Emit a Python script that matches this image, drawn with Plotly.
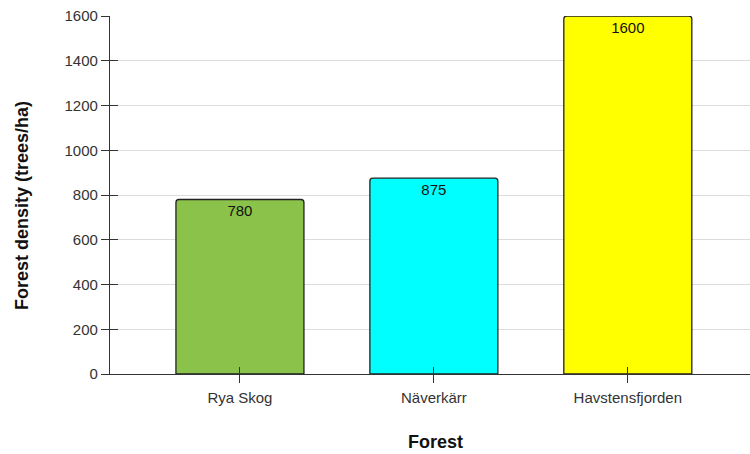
import plotly.graph_objects as go

forests = ["Rya Skog", "Näverkärr", "Havstensfjorden"]
density = [780, 875, 1600]
colors = ["#8bc34a", "#00ffff", "#ffff00"]
y_ticks = [0, 200, 400, 600, 800, 1000, 1200, 1400, 1600]

fig = go.Figure()
fig.add_trace(go.Bar(
    x=forests, y=density, marker=dict(color=colors, line=dict(color="#222", width=1.3)),
    text=[str(v) for v in density], textposition="inside", insidetextanchor="end",
    textfont=dict(family="Liberation Sans, Arial", size=15, color="#111"),
    width=0.66, showlegend=False, hoverinfo="skip", textangle=0,
))
# invisible helper trace for overlay axes (crossing ticks)
fig.add_trace(go.Scatter(x=forests, y=density, xaxis="x2", yaxis="y2", mode="markers",
                         marker=dict(opacity=0), showlegend=False, hoverinfo="skip"))

font = dict(family="Liberation Sans, Arial", size=15, color="#333")
title_font = dict(family="Liberation Sans, Arial", size=18, color="#111")
xr = [-0.67, 2.63]
yr = [0, 1600]
fig.update_layout(
    width=750, height=454, margin=dict(l=110, r=0, t=16, b=80),
    plot_bgcolor="white", paper_bgcolor="white", font=font,
    barcornerradius=3,
    xaxis=dict(range=xr, showline=True, linecolor="#333", linewidth=1.3,
               ticks="outside", ticklen=8, tickcolor="#333", tickwidth=1.3,
               tickfont=font, showgrid=False, ticklabelstandoff=2),
    yaxis=dict(range=yr, tickvals=y_ticks, showline=True, linecolor="#333", linewidth=1.3,
               ticks="outside", ticklen=8, tickcolor="#333", tickwidth=1.3,
               tickfont=font, gridcolor="#dcdcdc", gridwidth=1, zeroline=False),
    xaxis2=dict(range=xr, overlaying="x", ticks="inside", ticklen=7, tickcolor="#333", tickwidth=1.3,
                showticklabels=False, showgrid=False, zeroline=False, showline=False, side="bottom"),
    yaxis2=dict(range=yr, tickvals=y_ticks, overlaying="y", ticks="inside", ticklen=8, tickcolor="#333",
                tickwidth=1.3, showticklabels=False, showgrid=False, zeroline=False, showline=False, side="left"),
    annotations=[
        dict(text="<b>Forest</b>", xref="paper", yref="paper", x=(435 - 110) / 640, y=-(442 - 374) / 358,
             xanchor="center", yanchor="middle", showarrow=False, font=title_font),
        dict(text="<b>Forest density (trees/ha)</b>", xref="paper", yref="paper", x=(22 - 110) / 640,
             y=(374 - 206) / 358, xanchor="center", yanchor="middle", textangle=-90, showarrow=False,
             font=title_font),
    ],
)
fig.write_html("out.html")
